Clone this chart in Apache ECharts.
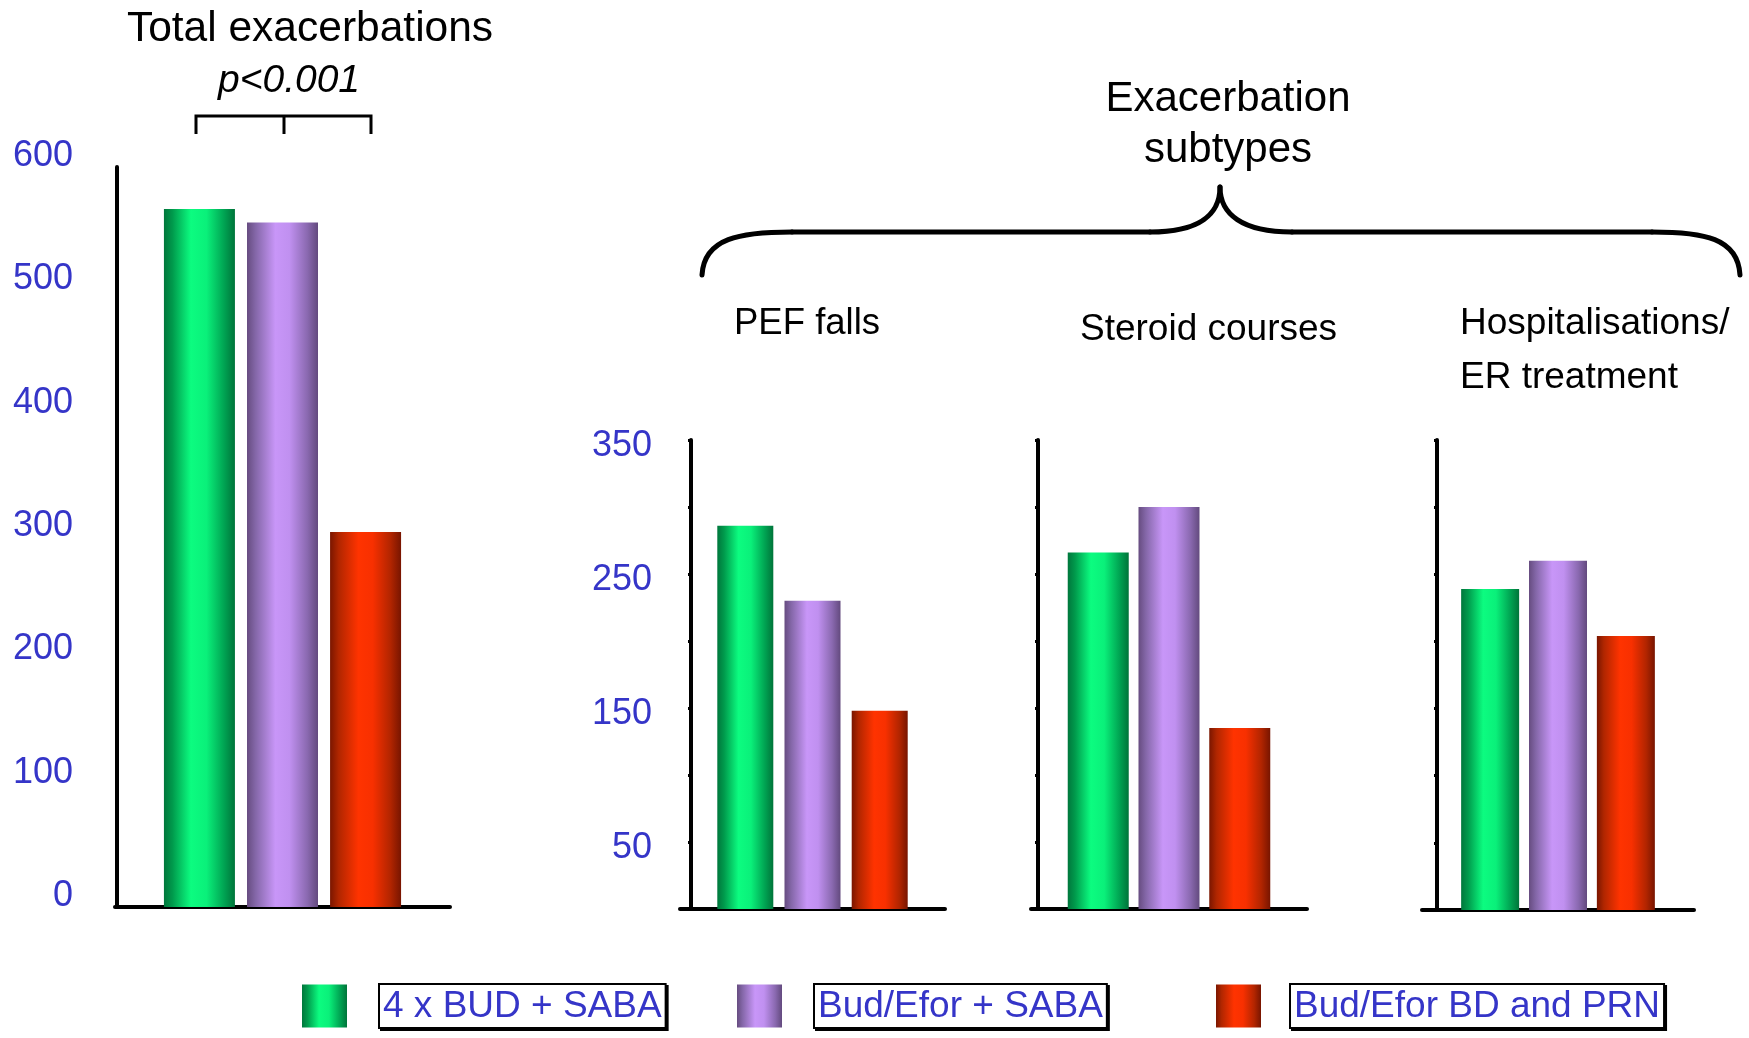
<!DOCTYPE html>
<html>
<head>
<meta charset="utf-8">
<script src="https://cdn.jsdelivr.net/npm/echarts@6/dist/echarts.min.js"></script>
<style>
html,body{margin:0;padding:0;background:#fff;}
#chart{width:1749px;height:1038px;}
</style>
</head>
<body>
<div id="chart"></div>
<script>
// ---- data ----
const groups = ['4 x BUD + SABA', 'Bud/Efor + SABA', 'Bud/Efor BD and PRN'];
const panels = ['Total exacerbations', 'PEF falls', 'Steroid courses', 'Hospitalisations/ER treatment'];
const totalValues = [566, 555, 304];
const pefValues = [286, 230, 148];
const steroidValues = [266, 300, 135];
const hospValues = [239, 260, 204];
const totalTickLabels = ['0', '100', '200', '300', '400', '500', '600'];
const subtypeTickLabels = ['50', '150', '250', '350'];

const FONT = 'Liberation Sans, Arial, sans-serif';
const BLUE = '#3535c8';

function grad(stops) {
  return new echarts.graphic.LinearGradient(0, 0, 1, 0, stops.map((c) => ({offset: c[0], color: c[1]})));
}
const colors = [
  grad([[0, '#00773c'], [0.12, '#009a4c'], [0.38, '#0cfc80'], [0.6, '#0af07a'], [0.85, '#00a352'], [1, '#00743a']]),
  grad([[0, '#664c80'], [0.12, '#8467a8'], [0.4, '#c896f8'], [0.6, '#c090f0'], [0.85, '#8a69b0'], [1, '#634a7e']]),
  grad([[0, '#7a1600'], [0.12, '#b02600'], [0.4, '#ff3300'], [0.6, '#f83000'], [0.85, '#b22500'], [1, '#781500']])
];

const panelValues = [totalValues, pefValues, steroidValues, hospValues];
const grids = [
  {left: 115, top: 167, width: 335, height: 740},
  {left: 680, top: 440, width: 265, height: 469},
  {left: 1031, top: 440, width: 276, height: 469},
  {left: 1422, top: 440, width: 272, height: 470}
];
const yOffsets = [-2, -11, -7, -15];
const barWidths = [71, 56, 61, 58];
const barGaps = ['17%', '20%', '16%', '17%'];

const axisLineStyle = {color: '#000', width: 4};

const xAxes = grids.map((g, k) => ({
  type: 'category', gridIndex: k, data: [panels[k]],
  axisLine: {show: true, lineStyle: axisLineStyle},
  axisTick: {show: false}, axisLabel: {show: false}
}));

const yAxes = grids.map((g, k) => {
  if (k === 0) {
    return {
      type: 'value', gridIndex: 0, min: 0, max: 600, interval: 100, offset: yOffsets[0],
      axisLine: {show: true, lineStyle: axisLineStyle},
      axisTick: {show: false}, splitLine: {show: false},
      axisLabel: {
        margin: 44,
        formatter: v => totalTickLabels.includes(String(v)) ? '{a|' + v + '}' : '',
        rich: {a: {color: BLUE, fontSize: 36, fontFamily: FONT, padding: [0, 0, 22, 0]}}
      }
    };
  }
  return {
    type: 'value', gridIndex: k, min: 0, max: 350, interval: 50, offset: yOffsets[k],
    axisLine: {show: true, lineStyle: axisLineStyle},
    axisTick: {show: true, inside: false, length: 3, lineStyle: {color: '#000', width: 3}},
    splitLine: {show: false},
    axisLabel: {
      show: k === 1, margin: 39,
      formatter: v => subtypeTickLabels.includes(String(v)) ? '{a|' + v + '}' : '',
      rich: {a: {color: BLUE, fontSize: 36, fontFamily: FONT, padding: [12, 0, 0, 0]}}
    }
  };
});

const series = [];
panelValues.forEach((vals, k) => {
  groups.forEach((name, i) => {
    series.push({
      type: 'bar', name: name, xAxisIndex: k, yAxisIndex: k,
      data: [vals[i]], barWidth: barWidths[k], barGap: barGaps[k],
      itemStyle: {color: colors[i]},
      silent: true
    });
  });
});

const legendLefts = [302, 737, 1216];
const legendGaps = [28, 28, 25];
const legends = groups.map((name, i) => ({
  data: [name], left: legendLefts[i], top: 983, padding: 0,
  icon: 'rect', itemWidth: 45, itemHeight: 43, selectedMode: false,
  formatter: n => '{gap| }{box|' + n + '}',
  textStyle: {
    rich: {
      gap: {width: legendGaps[i], fontSize: 10},
      box: {
        color: BLUE, fontSize: 37, fontFamily: FONT, lineHeight: 41,
        borderColor: '#000', borderWidth: 2, backgroundColor: '#fff',
        padding: [3, 3, 2, 3],
        shadowColor: '#000', shadowOffsetX: 2, shadowOffsetY: 2, shadowBlur: 0
      }
    }
  }
}));

function txt(text, x, y, size, opts) {
  return {
    type: 'text', x: x, y: y, silent: true,
    style: Object.assign({text: text, fontSize: size, fontFamily: FONT, fill: '#000', align: 'center', verticalAlign: 'middle'}, opts || {})
  };
}
const lineS = {stroke: '#000', lineWidth: 5, fill: null, lineCap: 'round'};
const graphics = [
  txt('Total exacerbations', 310, 29, 42.5),
  txt('p<0.001', 289, 81, 39, {fontStyle: 'italic'}),
  {type: 'polyline', silent: true, shape: {points: [[196, 134], [196, 116], [371, 116], [371, 134]]}, style: {stroke: '#000', lineWidth: 3, fill: null}},
  {type: 'line', silent: true, shape: {x1: 284, y1: 116, x2: 284, y2: 134}, style: {stroke: '#000', lineWidth: 3}},
  txt('Exacerbation', 1228, 99, 42),
  txt('subtypes', 1228, 150, 42),
  {type: 'bezierCurve', silent: true, shape: {x1: 702, y1: 275, cpx1: 704, cpy1: 238, cpx2: 740, cpy2: 232, x2: 792, y2: 232}, style: lineS},
  {type: 'line', silent: true, shape: {x1: 792, y1: 232, x2: 1150, y2: 232}, style: lineS},
  {type: 'bezierCurve', silent: true, shape: {x1: 1150, y1: 232, cpx1: 1200, cpy1: 232, cpx2: 1220, cpy2: 214, x2: 1220, y2: 187}, style: lineS},
  {type: 'bezierCurve', silent: true, shape: {x1: 1220, y1: 187, cpx1: 1220, cpy1: 214, cpx2: 1242, cpy2: 232, x2: 1292, y2: 232}, style: lineS},
  {type: 'line', silent: true, shape: {x1: 1292, y1: 232, x2: 1652, y2: 232}, style: lineS},
  {type: 'bezierCurve', silent: true, shape: {x1: 1652, y1: 232, cpx1: 1704, cpy1: 232, cpx2: 1738, cpy2: 238, x2: 1740, y2: 275}, style: lineS},
  txt('PEF falls', 734, 324, 36.5, {align: 'left'}),
  txt('Steroid courses', 1080, 330, 37, {align: 'left'}),
  txt('Hospitalisations/', 1460, 324, 37, {align: 'left'}),
  txt('ER treatment', 1460, 378, 37, {align: 'left'})
];

const chart = echarts.init(document.getElementById('chart'), null, {renderer: 'canvas'});
chart.setOption({
  backgroundColor: '#fff',
  animation: false,
  grid: grids,
  xAxis: xAxes,
  yAxis: yAxes,
  legend: legends,
  series: series,
  graphic: graphics
});
</script>
</body>
</html>
